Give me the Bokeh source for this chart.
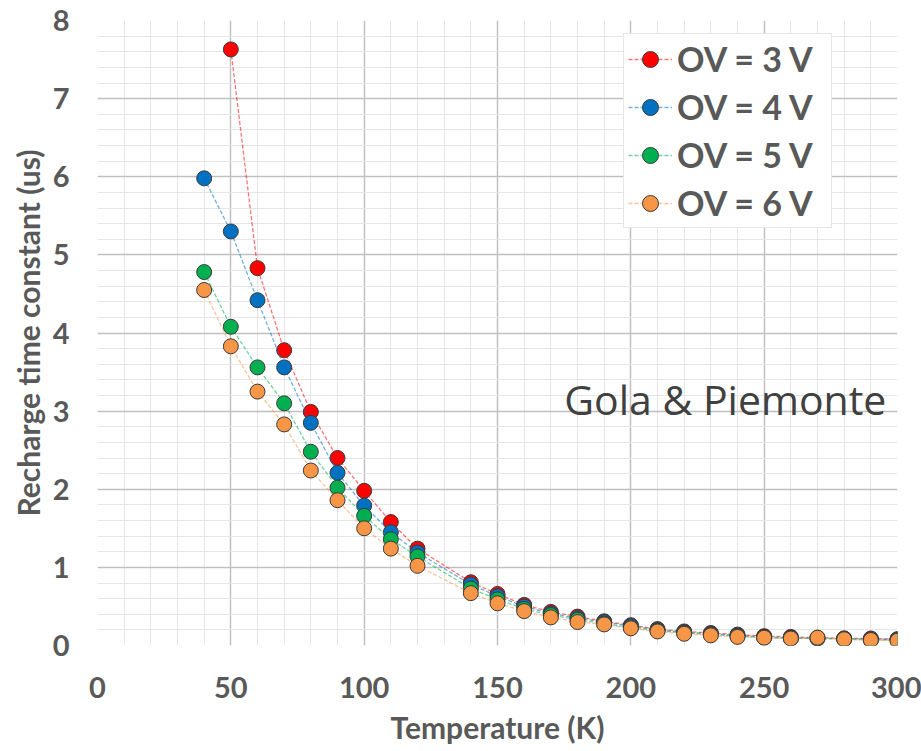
from bokeh.plotting import figure
from bokeh.models import (Range1d, SingleIntervalTicker, Legend, LegendItem, Label)
from bokeh.embed import file_html
from bokeh.resources import INLINE

# ---- data ----
temps = [40, 50, 60, 70, 80, 90, 100, 110, 120, 140, 150, 160, 170, 180, 190,
         200, 210, 220, 230, 240, 250, 260, 270, 280, 290, 300]
temps_ov3 = temps[1:]
tau_ov3 = [7.63, 4.83, 3.78, 2.99, 2.40, 1.98, 1.58, 1.24,
           0.81, 0.66, 0.52, 0.43, 0.37, 0.31, 0.26, 0.21, 0.18, 0.16, 0.14,
           0.12, 0.11, 0.10, 0.09, 0.09, 0.08]
tau_ov4 = [5.98, 5.30, 4.42, 3.56, 2.85, 2.21, 1.79, 1.45, 1.19,
           0.78, 0.63, 0.50, 0.41, 0.35, 0.30, 0.25, 0.20, 0.17, 0.15,
           0.13, 0.11, 0.10, 0.09, 0.09, 0.08, 0.08]
tau_ov5 = [4.78, 4.08, 3.56, 3.10, 2.48, 2.02, 1.66, 1.36, 1.14,
           0.73, 0.59, 0.47, 0.39, 0.33, 0.28, 0.23, 0.19, 0.16, 0.14,
           0.12, 0.10, 0.09, 0.09, 0.08, 0.07, 0.07]
tau_ov6 = [4.55, 3.83, 3.25, 2.83, 2.24, 1.86, 1.50, 1.24, 1.02,
           0.67, 0.54, 0.44, 0.36, 0.30, 0.27, 0.22, 0.18, 0.15, 0.13,
           0.11, 0.10, 0.09, 0.10, 0.08, 0.07, 0.06]
labels = ["OV = 3 V", "OV = 4 V", "OV = 5 V", "OV = 6 V"]
colors = ["#FF0000", "#0070C0", "#00B050", "#F79646"]

FONT = "Lato"
GRAY = "#595959"

p = figure(width=921, height=751, output_backend="svg", toolbar_location=None,
           x_range=Range1d(0, 300), y_range=Range1d(0, 8),
           min_border_left=97, min_border_right=24, min_border_top=20,
           min_border_bottom=106)
p.outline_line_color = None
p.background_fill_color = "white"

p.xaxis.ticker = SingleIntervalTicker(interval=50, num_minor_ticks=5)
p.yaxis.ticker = SingleIntervalTicker(interval=1, num_minor_ticks=5)

for ax in (p.xaxis[0], p.yaxis[0]):
    ax.axis_line_color = None
    ax.major_tick_line_color = None
    ax.minor_tick_line_color = None
    ax.major_label_text_font = FONT
    ax.major_label_text_font_style = "bold"
    ax.major_label_text_font_size = "29px"
    ax.major_label_text_color = GRAY
    ax.axis_label_text_font = FONT
    ax.axis_label_text_font_style = "bold"
    ax.axis_label_text_color = GRAY

p.xaxis.major_label_standoff = 25
p.yaxis.major_label_standoff = 22
p.xaxis.axis_label = "Temperature (K)"
p.xaxis.axis_label_text_font_size = "30px"
p.xaxis.axis_label_standoff = 8
p.yaxis.axis_label = "Recharge time constant (us)"
p.yaxis.axis_label_text_font_size = "30px"
p.yaxis.axis_label_standoff = 4

for g in (p.xgrid[0], p.ygrid[0]):
    g.grid_line_color = "#C0C0C0"
    g.grid_line_width = 1.5
    g.minor_grid_line_color = "#E6E6E6"
    g.minor_grid_line_width = 1

series = [(temps_ov3, tau_ov3), (temps, tau_ov4), (temps, tau_ov5), (temps, tau_ov6)]
items = []
for (xs, ys), lab, col in zip(series, labels, colors):
    lr = p.line(xs, ys, line_color=col, line_width=1.3, line_alpha=0.55,
                line_dash="4 2")
    sr = p.scatter(xs, ys, size=15, fill_color=col, line_color="#3a3a3a",
                   line_width=1)
    items.append(LegendItem(label=lab, renderers=[lr, sr]))

legend = Legend(items=items, location=(526, 417), margin=0,
                label_text_font=FONT, label_text_font_style="bold",
                label_text_font_size="34px", label_text_color=GRAY,
                label_height=40, glyph_height=40, glyph_width=44,
                label_width=150, label_standoff=5, spacing=7, padding=4,
                border_line_color="#D0D0D0", border_line_width=1.5,
                background_fill_color="white", background_fill_alpha=1.0)
p.add_layout(legend, "center")

p.add_layout(Label(x=175, y=3.16, text="Gola & Piemonte", text_font="Open Sans",
                   text_font_size="41px", text_color="#404040",
                   text_baseline="middle"))

open("out.html", "w").write(file_html(p, INLINE))
